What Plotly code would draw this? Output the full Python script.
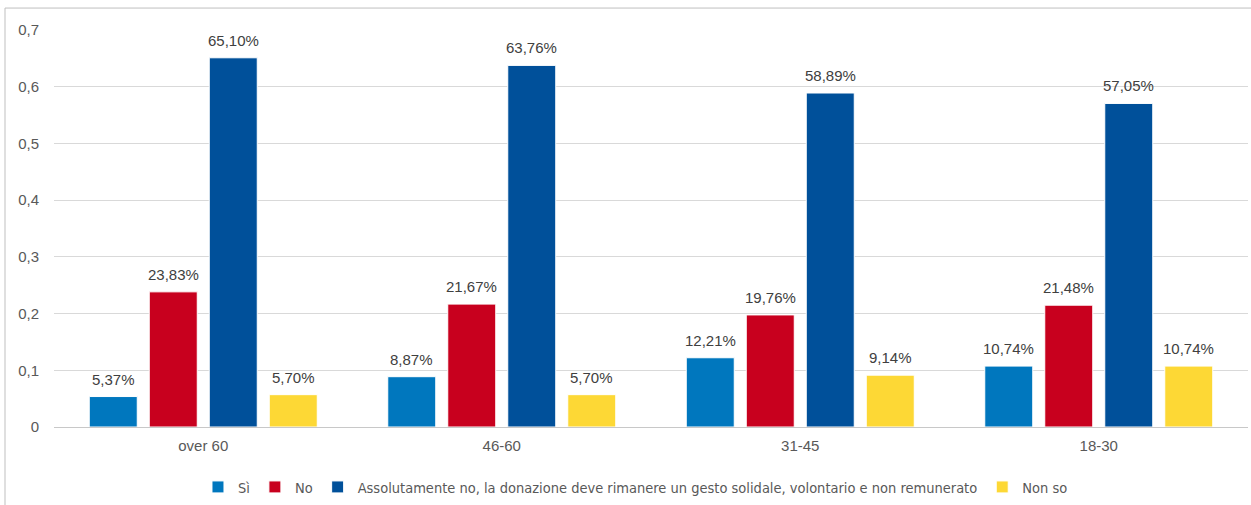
import plotly.graph_objects as go

categories = ["over 60", "46-60", "31-45", "18-30"]
series_names = ["Sì", "No", "Assolutamente no, la donazione deve rimanere un gesto solidale, volontario e non remunerato", "Non so"]
si = [0.0537, 0.0887, 0.1221, 0.1074]
no = [0.2383, 0.2167, 0.1976, 0.2148]
assolutamente = [0.6510, 0.6376, 0.5889, 0.5705]
non_so = [0.0570, 0.0570, 0.0914, 0.1074]
colors = ["#0077BE", "#C8001E", "#00509A", "#FDD835"]

W, H = 1251, 505
l, r, t, b = 54, 3, 30, 77
pw, ph = W - l - r, H - t - b
bargap = 0.196
slot = pw / len(categories) * (1 - bargap) / 4

fig = go.Figure()
for i, (name, vals, col) in enumerate(zip(series_names, [si, no, assolutamente, non_so], colors)):
    fig.add_trace(go.Bar(
        x=categories, y=vals, name=name,
        marker=dict(color=col, line=dict(color="white", width=1)),
    ))
    for c, v in zip(categories, vals):
        fig.add_annotation(
            x=c, y=v, xref="x", yref="y", text=f"{v*100:.2f}%".replace(".", ","),
            showarrow=False, yanchor="bottom", xanchor="center",
            xshift=(i - 1.5) * slot, yshift=7,
            font=dict(size=15, color="#404040", family="Liberation Sans"),
        )

fig.update_layout(
    width=W, height=H,
    margin=dict(l=l, r=r, t=t, b=b),
    barmode="group", bargap=bargap, bargroupgap=0.2,
    separators=",.",
    plot_bgcolor="white", paper_bgcolor="white",
    font=dict(family="Liberation Sans", color="#595959", size=15),
    showlegend=True,
    legend=dict(orientation="h", x=0.487, xanchor="center", y=-(487 - 428) / ph, yanchor="middle",
                font=dict(size=14.5, color="#595959", family="DejaVu Sans Condensed"),
                itemwidth=30, tracegroupgap=0),
    yaxis=dict(range=[0, 0.7], dtick=0.1, showgrid=True, gridcolor="#D9D9D9", gridwidth=1,
               zeroline=True, zerolinecolor="#C8C8C8", zerolinewidth=1,
               tickfont=dict(size=15, color="#595959"), ticks="", ticklabelstandoff=14),
    xaxis=dict(tickfont=dict(size=15, color="#595959"), showline=False, ticks="", ticklabelstandoff=8),
)

# outer chart border (top & left)
x0 = (5 - l) / pw
y0 = (t + ph - 8) / ph
fig.add_shape(type="line", xref="paper", yref="paper", x0=x0, x1=(W - l) / pw + 0.01, y0=y0, y1=y0,
              line=dict(color="#BFBFBF", width=1))
fig.add_shape(type="line", xref="paper", yref="paper", x0=x0, x1=x0, y0=y0, y1=-(H - t - ph) / ph - 0.01,
              line=dict(color="#BFBFBF", width=1))

fig.write_html("out.html", config={"displayModeBar": False},
               post_script="document.body.style.margin='0';")
